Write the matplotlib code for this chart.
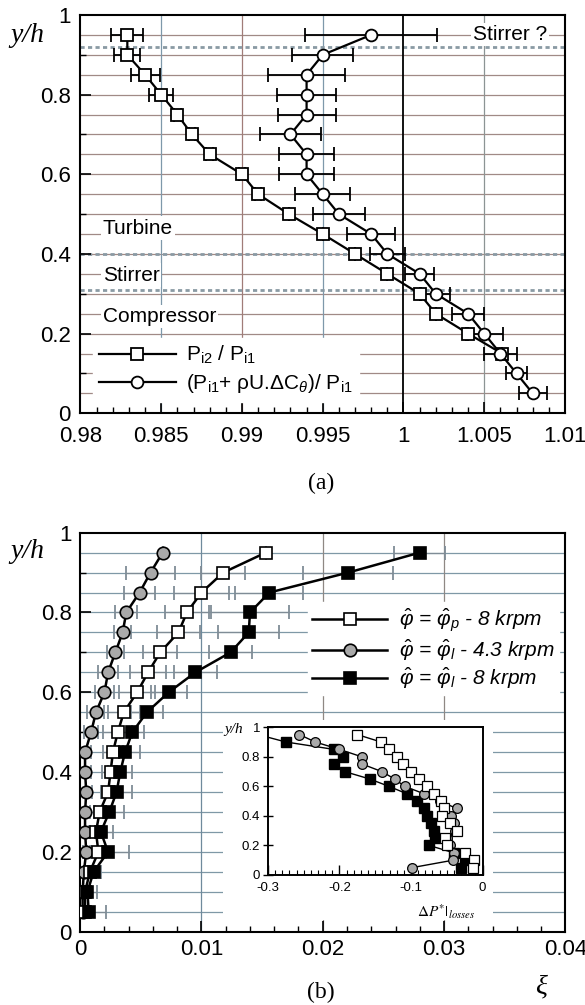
import matplotlib
matplotlib.use('Agg')
import matplotlib.pyplot as plt
from matplotlib.patches import Rectangle
from matplotlib.ticker import MultipleLocator, FuncFormatter

plt.rcParams['font.family'] = ['Liberation Sans', 'DejaVu Sans']
plt.rcParams['mathtext.fontset'] = 'custom'
plt.rcParams['mathtext.rm'] = 'Liberation Sans'
plt.rcParams['mathtext.it'] = 'Liberation Sans:italic'
plt.rcParams['mathtext.bf'] = 'Liberation Sans:bold'
plt.rcParams['axes.unicode_minus'] = False

# (a) total pressure ratios
y_sq = [0.95, 0.90, 0.85, 0.80, 0.75, 0.70, 0.65, 0.60, 0.55, 0.50, 0.45,
        0.40, 0.35, 0.30, 0.25, 0.20, 0.15]
pi2_pi1 = [0.9829, 0.9829, 0.9840, 0.9850, 0.9860, 0.9869, 0.9880, 0.9900,
           0.9910, 0.9929, 0.9950, 0.9970, 0.9990, 1.0010, 1.0020, 1.0040, 1.0061]
pi2_pi1_err = [0.0010, 0.0008, 0.0009, 0.00075, 0.0002, 0.0002, 0.0002, 0.0002,
               0.0002, 0, 0, 0, 0, 0, 0, 0, 0]
y_ci = [0.95, 0.90, 0.85, 0.80, 0.75, 0.70, 0.65, 0.60, 0.55, 0.50, 0.45,
        0.40, 0.35, 0.30, 0.25, 0.20, 0.15, 0.10, 0.05]
euler_ratio = [0.9980, 0.9950, 0.9940, 0.9940, 0.9940, 0.9930, 0.9940, 0.9940,
               0.9950, 0.9960, 0.9980, 0.9990, 1.0010, 1.0020, 1.0040, 1.0050,
               1.0060, 1.0070, 1.0080]
euler_err = [0.0041, 0.0019, 0.0024, 0.00185, 0.0018, 0.0019, 0.0017, 0.0017,
             0.0017, 0.0016, 0.0015, 0.0011, 0.0009, 0.0009, 0.0010, 0.00115,
             0.0010, 0.00066, 0.00087]
zone_lines = [0.92, 0.40, 0.31]

# (b) xi profiles
y_b = [0.95, 0.90, 0.85, 0.80, 0.75, 0.70, 0.65, 0.60, 0.55, 0.50, 0.45,
       0.40, 0.35, 0.30, 0.25, 0.20, 0.15, 0.10, 0.05]
xi_p8 = [0.0153, 0.0118, 0.0100, 0.0088, 0.0081, 0.0066, 0.0056, 0.0047,
         0.0036, 0.0031, 0.0027, 0.0025, 0.0023, 0.0016, 0.0013, 0.0015,
         0.0008, 0.0004, 0.0004]
xi_p8_err = [0, 0.0018, 0.0023, 0.0018, 0.0018, 0.0014, 0.0015, 0.0015, 0.0013,
             0.0012, 0.0008, 0.0007, 0.0006, 0.0005, 0.0005, 0.0006, 0.0005,
             0.0004, 0.0004]
xi_l43 = [0.0068, 0.0058, 0.0049, 0.0038, 0.0035, 0.0029, 0.0023, 0.0020,
          0.0013, 0.0009, 0.0004, 0.0004, 0.0005, 0.0004, 0.0004, 0.0005,
          0.0003, 0.0002, 0.0002]
xi_l43_err = [0, 0.0020, 0.0013, 0.0009, 0.0007, 0.0007, 0.0008, 0.0008, 0.0007,
              0.0006, 0.0005, 0.0005, 0.0005, 0.0004, 0.0004, 0.0003, 0.0003,
              0.0003, 0.0003]
xi_l8 = [0.0280, 0.0221, 0.0156, 0.0140, 0.0139, 0.0124, 0.0095, 0.0073,
         0.0055, 0.0043, 0.0037, 0.0033, 0.0030, 0.0024, 0.0017, 0.0023,
         0.0011, 0.0006, 0.0007]
xi_l8_err = [0.0021, 0.0037, 0.0028, 0.0032, 0.0025, 0.0018, 0.0018, 0.0015,
             0.0013, 0.0010, 0.0012, 0.0010, 0.0013, 0.0012, 0.0010, 0.0017,
             0.0006, 0.0008, 0.0014]

# inset: dP*|losses
dp_p8 = [-0.175, -0.142, -0.131, -0.120, -0.111, -0.100, -0.089, -0.078, -0.068,
         -0.058, -0.054, -0.056, -0.045, -0.035, -0.052, -0.050, -0.025, -0.012, -0.013]
dp_l43 = [-0.256, -0.234, -0.200, -0.169, -0.168, -0.141, -0.123, -0.109, -0.082,
          -0.060, -0.036, -0.044, -0.040, -0.038, -0.050, -0.045, -0.040, -0.041, -0.098]
dp_l8 = [-0.314, -0.275, -0.208, -0.195, -0.208, -0.193, -0.158, -0.131, -0.106,
         -0.091, -0.082, -0.077, -0.072, -0.068, -0.066, -0.075, -0.040, -0.025, -0.030]

fmt = FuncFormatter(lambda v, p: '%g' % (round(v, 4) + 0.0))
serif = 'Liberation Serif'

fig = plt.figure(figsize=(5.85, 10.05), dpi=100)

# ---------------- panel (a)
axa = fig.add_axes([0.1376, 0.5888, 0.8282, 0.3963])
axa.set_xlim(0.98, 1.01)
axa.set_ylim(0, 1)
for yy in [i * 0.05 for i in range(1, 20)]:
    axa.axhline(yy, color='#a08a86', lw=0.9, zorder=0.5)
for xx, c in [(0.985, '#7e98aa'), (0.99, '#a07c78'), (0.995, '#7e98aa'), (1.005, '#8c9494')]:
    axa.axvline(xx, color=c, lw=0.9, zorder=0.5)
axa.axvline(1.0, color='black', lw=1.3, zorder=1.5)
for yy in zone_lines:
    axa.axhline(yy, color='#8a9aa4', lw=2, ls=(0, (1.5, 1.2)), zorder=1.2)

axa.errorbar(pi2_pi1, y_sq, xerr=pi2_pi1_err, fmt='none', ecolor='black',
             elinewidth=1.3, capsize=5, capthick=1.3, zorder=2)
axa.errorbar(euler_ratio, y_ci, xerr=euler_err, fmt='none', ecolor='black',
             elinewidth=1.3, capsize=5, capthick=1.3, zorder=2)
h1, = axa.plot(pi2_pi1, y_sq, '-s', color='black', lw=1.6, ms=8,
               mfc='white', mec='black', mew=1.3, zorder=3)
h2, = axa.plot(euler_ratio, y_ci, '-o', color='black', lw=1.6, ms=8.5,
               mfc='white', mec='black', mew=1.3, zorder=3)

box = dict(facecolor='white', edgecolor='none', pad=1.5)
axa.text(1.0089, 0.95, 'Stirrer ?', ha='right', va='center', fontsize=15, bbox=box, zorder=4)
axa.text(0.98137, 0.465, 'Turbine', ha='left', va='center', fontsize=15, bbox=box, zorder=4)
axa.text(0.98137, 0.347, 'Stirrer', ha='left', va='center', fontsize=15, bbox=box, zorder=4)
axa.text(0.98137, 0.2425, 'Compressor', ha='left', va='center', fontsize=15, bbox=box, zorder=4)

axa.legend([h1, h2], ['P$_{\\rm i2}$ / P$_{\\rm i1}$',
                      '(P$_{\\rm i1}$+ \u03c1U.\u0394C$_{\\theta}$)/ P$_{\\rm i1}$'],
           loc='upper left', bbox_to_anchor=(0.025, 0.19), frameon=True,
           fancybox=False, edgecolor='white', facecolor='white', framealpha=1,
           fontsize=15, handlelength=3.7, handletextpad=0.5, labelspacing=0.3,
           borderpad=0.3, borderaxespad=0)

axa.xaxis.set_major_locator(MultipleLocator(0.005))
axa.xaxis.set_minor_locator(MultipleLocator(0.001))
axa.yaxis.set_major_locator(MultipleLocator(0.2))
axa.yaxis.set_minor_locator(MultipleLocator(0.1))
axa.xaxis.set_major_formatter(fmt)
axa.yaxis.set_major_formatter(fmt)
axa.tick_params(which='both', direction='in', top=False, right=False, labelsize=16)
axa.tick_params(which='major', length=8, width=1.2)
axa.tick_params(which='minor', length=4, width=1)
axa.tick_params(axis='x', pad=9)
axa.tick_params(axis='y', pad=7)
for s in axa.spines.values():
    s.set_linewidth(1.5)

# ---------------- panel (b)
axb = fig.add_axes([0.1371, 0.0729, 0.8292, 0.3971])
axb.set_xlim(0, 0.04)
axb.set_ylim(0, 1)
for yy in [i * 0.05 for i in range(1, 20)]:
    axb.axhline(yy, color='#7f98a6', lw=0.9, zorder=0.5)
for xx, c in [(0.01, '#6f8a9c'), (0.02, '#8f8884'), (0.03, '#8f8884')]:
    axb.axvline(xx, color=c, lw=0.9, zorder=0.5)
axb.add_patch(Rectangle((0.0118, 0.03), 0.0222, 0.50, facecolor='white',
                        edgecolor='none', zorder=1))

for xv, xe in [(xi_l43, xi_l43_err), (xi_p8, xi_p8_err), (xi_l8, xi_l8_err)]:
    axb.errorbar(xv, y_b, xerr=xe, fmt='none', ecolor='#7f8c96',
                 elinewidth=0.9, capsize=5, capthick=1.3, zorder=2)
g1, = axb.plot(xi_l43, y_b, '-o', color='black', lw=1.8, ms=9,
               mfc='#a9a9a9', mec='black', mew=1.2, zorder=3)
g2, = axb.plot(xi_p8, y_b, '-s', color='black', lw=1.8, ms=8.5,
               mfc='white', mec='black', mew=1.2, zorder=3)
g3, = axb.plot(xi_l8, y_b, '-s', color='black', lw=1.8, ms=8.5,
               mfc='black', mec='black', mew=1.2, zorder=3)

axb.legend([g2, g1, g3],
           ['$\\hat{\\varphi}$ = $\\hat{\\varphi}_p$ - 8 krpm',
            '$\\hat{\\varphi}$ = $\\hat{\\varphi}_l$ - 4.3 krpm',
            '$\\hat{\\varphi}$ = $\\hat{\\varphi}_l$ - 8 krpm'],
           loc='upper left', bbox_to_anchor=(0.47, 0.825), frameon=True,
           fancybox=False, edgecolor='white', facecolor='white', framealpha=1,
           prop={'style': 'italic', 'size': 15}, handlelength=3.6,
           handletextpad=0.55, labelspacing=0.12, borderpad=0.2, borderaxespad=0)

axb.xaxis.set_major_locator(MultipleLocator(0.01))
axb.xaxis.set_minor_locator(MultipleLocator(0.002))
axb.yaxis.set_major_locator(MultipleLocator(0.2))
axb.yaxis.set_minor_locator(MultipleLocator(0.1))
axb.xaxis.set_major_formatter(fmt)
axb.yaxis.set_major_formatter(fmt)
axb.tick_params(which='both', direction='in', top=False, right=False, labelsize=16)
axb.tick_params(which='major', length=8, width=1.2)
axb.tick_params(which='minor', length=4, width=1)
axb.tick_params(axis='x', pad=5)
axb.tick_params(axis='y', pad=6)
for s in axb.spines.values():
    s.set_linewidth(1.5)

# ---------------- inset
axi = fig.add_axes([0.4581, 0.1294, 0.3667, 0.147])
axi.set_xlim(-0.3, 0)
axi.set_ylim(0, 1)
axi.plot(dp_l8, y_b, '-s', color='black', lw=1, ms=6.5, mfc='black', mec='black', zorder=3)
axi.plot(dp_l43, y_b, '-o', color='black', lw=1, ms=7, mfc='#a9a9a9', mec='black', mew=0.9, zorder=3)
axi.plot(dp_p8, y_b, '-s', color='black', lw=1, ms=6.5, mfc='white', mec='black', mew=0.9, zorder=3)
axi.xaxis.set_major_locator(MultipleLocator(0.1))
axi.xaxis.set_minor_locator(MultipleLocator(0.01))
axi.yaxis.set_major_locator(MultipleLocator(0.2))
axi.xaxis.set_major_formatter(fmt)
axi.yaxis.set_major_formatter(fmt)
axi.tick_params(which='both', top=False, right=False, labelsize=9.5)
axi.tick_params(axis='x', which='both', direction='in')
axi.tick_params(axis='x', which='major', length=7, width=1, pad=5)
axi.tick_params(axis='x', which='minor', length=3.5, width=0.8)
axi.tick_params(axis='y', direction='inout', length=7, width=1, pad=2)
for s in axi.spines.values():
    s.set_linewidth(1.4)

fig.text(0.762, 0.093, '$\\Delta P^{*}|_{losses}$', ha='center', va='center',
         fontsize=11, math_fontfamily='stix')
fig.text(0.400, 0.274, 'y/h', family=serif, style='italic', fontsize=11,
         ha='center', va='center')

# ---------------- labels
fig.text(0.046, 0.965, 'y/h', family=serif, style='italic', fontsize=20,
         ha='center', va='center')
fig.text(0.046, 0.451, 'y/h', family=serif, style='italic', fontsize=20,
         ha='center', va='center')
fig.text(0.549, 0.519, '(a)', family=serif, fontsize=17, ha='center', va='center')
fig.text(0.549, 0.012, '(b)', family=serif, fontsize=17, ha='center', va='center')
fig.text(0.925, 0.018, '\u03be', family=serif, style='italic', fontsize=20,
         ha='center', va='center')

fig.savefig('out.png', dpi=100)
